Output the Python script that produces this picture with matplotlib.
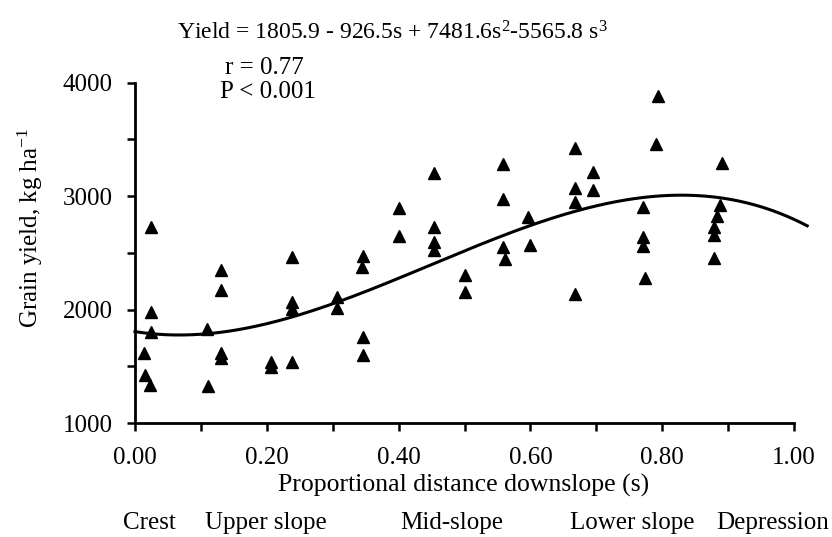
import numpy as np
import matplotlib
matplotlib.use("Agg")
import matplotlib.pyplot as plt
from matplotlib.ticker import MultipleLocator, FormatStrFormatter

plt.rcParams["font.family"] = ["Liberation Serif", "DejaVu Serif"]
plt.rcParams["mathtext.fontset"] = "custom"
plt.rcParams["mathtext.rm"] = "Liberation Serif"
plt.rcParams["mathtext.it"] = "Liberation Serif"

# Observed grain yield by proportional distance downslope
distance = [
    0.013, 0.015, 0.023, 0.025, 0.025, 0.025,
    0.109, 0.111, 0.131, 0.131, 0.131, 0.131,
    0.207, 0.207, 0.238, 0.238, 0.238, 0.238,
    0.306, 0.306, 0.346, 0.344, 0.346, 0.346,
    0.400, 0.400, 0.453, 0.453, 0.453, 0.453,
    0.501, 0.501, 0.559, 0.559, 0.559, 0.561,
    0.597, 0.600, 0.667, 0.667, 0.667, 0.667,
    0.695, 0.695, 0.771, 0.771, 0.771, 0.774,
    0.794, 0.790, 0.890, 0.888, 0.883, 0.878,
    0.878, 0.878,
]
grain_yield = [
    1614, 1423, 1335, 2731, 1981, 1805,
    1826, 1326, 2349, 2173, 1620, 1570,
    1540, 1496, 1535, 2466, 2070, 2002,
    2114, 2011, 2472, 2372, 1761, 1600,
    2893, 2650, 3201, 2731, 2598, 2525,
    2305, 2158, 3286, 2972, 2554, 2443,
    2813, 2569, 3422, 3069, 2951, 2135,
    3215, 3054, 2907, 2643, 2563, 2276,
    3883, 3460, 3295, 2922, 2825, 2731,
    2657, 2452,
]

# Cubic fit coefficients (constant, s, s^2, s^3)
coef = [1805.9, -926.5, 7481.6, -5565.8]

x_ticks = [0.0, 0.2, 0.4, 0.6, 0.8, 1.0]
y_ticks = [1000, 2000, 3000, 4000]
positions = ["Crest", "Upper slope", "Mid-slope", "Lower slope", "Depression"]

W, H = 832, 537
fig = plt.figure(figsize=(W / 100, H / 100), dpi=100)
ax = fig.add_axes([135 / W, (H - 423) / H, 678.8 / W, (423 - 82.7) / H])

s = np.linspace(0, 1.02, 300)
fit = coef[0] + coef[1] * s + coef[2] * s**2 + coef[3] * s**3
ax.plot(s, fit, color="black", lw=2.2, clip_on=False, zorder=2)
ax.plot(distance, grain_yield, linestyle="none", marker="^", ms=9,
        color="black", markeredgecolor="black", clip_on=False, zorder=3)

ax.set_xlim(0, 1.03)
ax.set_ylim(1000, 4000)
ax.spines["top"].set_visible(False)
ax.spines["right"].set_visible(False)
ax.spines["bottom"].set_bounds(0, 1.0)
for sp in ("left", "bottom"):
    ax.spines[sp].set_linewidth(2.0)

ax.set_xticks(x_ticks)
ax.xaxis.set_major_formatter(FormatStrFormatter("%.2f"))
ax.xaxis.set_minor_locator(MultipleLocator(0.1))
ax.set_yticks(y_ticks)
ax.yaxis.set_minor_locator(MultipleLocator(500))
ax.tick_params(which="both", direction="out", length=6, width=1.8,
               labelsize=18)
ax.tick_params(axis="x", pad=11)
ax.tick_params(axis="y", pad=10)

fig.text(464 / W, 1 - 485 / H, "Proportional distance downslope (s)",
         ha="center", va="center", fontsize=18.5)
fig.text(30 / W, 1 - 228 / H, r"Grain yield, kg ha$^{-1}$",
         ha="center", va="center", rotation=90, fontsize=18)

fig.text(177 / W, 1 - 33 / H,
         r"Yield = 1805.9 - 926.5s + 7481.6s$^{2}$-5565.8 s$^{3}$",
         ha="left", va="center", fontsize=17)
fig.text(264 / W, 1 - 68 / H, "r = 0.77", ha="center", va="center", fontsize=18)
fig.text(268 / W, 1 - 92 / H, "P < 0.001", ha="center", va="center", fontsize=18)

label_x = [149, 266, 452, 632, 773]
for name, xp in zip(positions, label_x):
    fig.text(xp / W, 1 - 523 / H, name, ha="center", va="center", fontsize=18)

fig.savefig("out.png", dpi=100)
